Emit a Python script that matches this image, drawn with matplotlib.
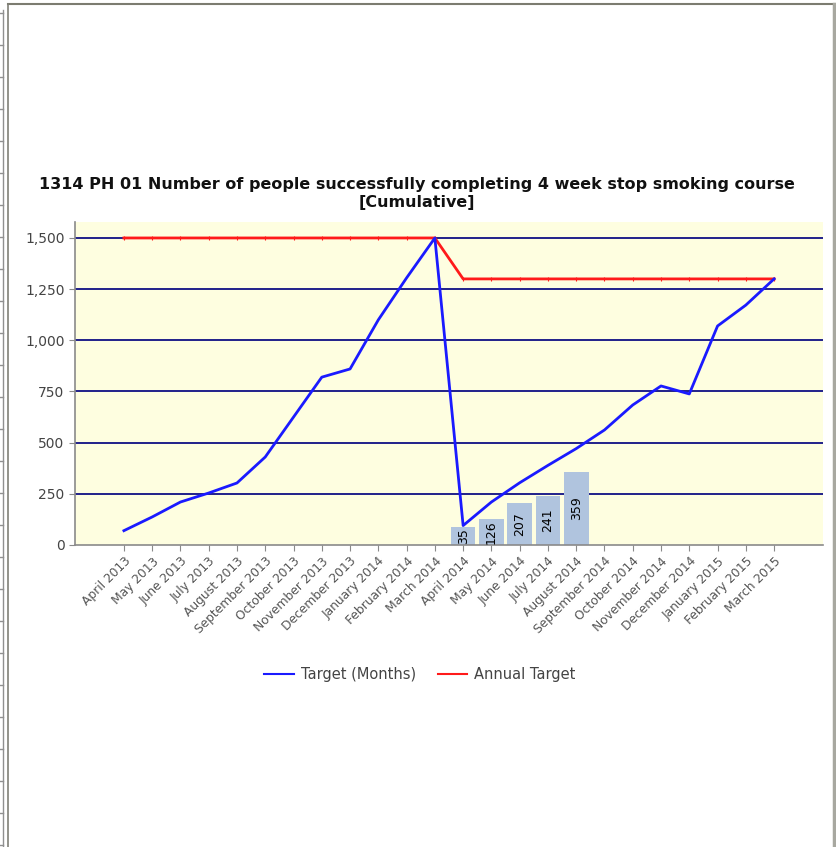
import matplotlib
matplotlib.use('Agg')
import matplotlib.pyplot as plt
from matplotlib.lines import Line2D
from matplotlib.ticker import FuncFormatter

# --- data ---
months = ['April 2013', 'May 2013', 'June 2013', 'July 2013', 'August 2013',
          'September 2013', 'October 2013', 'November 2013', 'December 2013',
          'January 2014', 'February 2014', 'March 2014', 'April 2014', 'May 2014',
          'June 2014', 'July 2014', 'August 2014', 'September 2014', 'October 2014',
          'November 2014', 'December 2014', 'January 2015', 'February 2015',
          'March 2015']
target_months = [70, 137, 210, 254, 303, 430, 625, 820, 860, 1100, 1305, 1500,
                 95, 210, 304, 389, 471, 562, 684, 777, 738, 1070, 1172, 1300]
annual_target = [1500, 1500, 1500, 1500, 1500, 1500, 1500, 1500, 1500, 1500, 1500, 1500,
                 1300, 1300, 1300, 1300, 1300, 1300, 1300, 1300, 1300, 1300, 1300, 1300]
actual_months = ['April 2014', 'May 2014', 'June 2014', 'July 2014', 'August 2014']
actual = [35, 126, 207, 241, 359]

TITLE = ("1314 PH 01 Number of people successfully completing 4 week stop smoking course\n"
         "[Cumulative]")

W, H = 837, 847
fig = plt.figure(figsize=(W / 100, H / 100), dpi=100)
fig.patch.set_facecolor('white')

# plot area in pixels: x 75..823, y 222..545
ax = fig.add_axes([75 / W, 1 - 545 / H, (823 - 75) / W, (545 - 222) / H])
ax.set_facecolor('#fefee0')

# lines first so the category axis keeps the month order
ax.plot(months, annual_target, color='#ff1a1a', lw=2, marker='|', ms=3, mew=0.8,
        zorder=4, label='Annual Target')
ax.plot(months, target_months, color='#1a1aff', lw=2, zorder=5, label='Target (Months)')

# bars get a minimum drawn height so the label fits (like the original tool)
bar_heights = [max(v, 89) for v in actual]
bars = ax.bar(actual_months, bar_heights, width=0.87, color='#b0c4de', zorder=2)
for b, v in zip(bars, actual):
    ax.text(b.get_x() + b.get_width() / 2, b.get_height() / 2, str(v),
            rotation=90, ha='center', va='center', fontsize=9, color='black', zorder=3)

ax.set_ylim(0, 1578)
ax.set_xlim(-1.73, 24.73)
ax.set_yticks(range(0, 1501, 250))
ax.yaxis.set_major_formatter(FuncFormatter(lambda v, p: f'{int(v):,}'))
for yv in range(250, 1501, 250):
    ax.axhline(yv, color='#20208a', lw=1.4, zorder=1)

for s in ['top', 'right']:
    ax.spines[s].set_visible(False)
for s in ['left', 'bottom']:
    ax.spines[s].set_color('#8a8a8a')
    ax.spines[s].set_linewidth(1.2)

ax.tick_params(axis='y', colors='#8a8a8a', labelcolor='#444444', labelsize=10,
               length=4, direction='out')
ax.tick_params(axis='x', colors='#8a8a8a', labelcolor='#555555', labelsize=8.8,
               length=4, direction='out', pad=3)
plt.setp(ax.get_xticklabels(), rotation=45, ha='right', rotation_mode='anchor')

fig.text(417 / W, 1 - 193 / H, TITLE, ha='center', va='center', fontsize=11.5,
         fontweight='bold', color='#111111', linespacing=1.25)

# legend below the chart
handles = [Line2D([], [], color='#1a1aff', lw=1.5), Line2D([], [], color='#ff1a1a', lw=1.5)]
fig.legend(handles, ['Target (Months)', 'Annual Target'], loc='center',
           bbox_to_anchor=(420 / W, 1 - 675 / H), ncol=2, frameon=False,
           fontsize=10.5, labelcolor='#444444', handlelength=2.0, handletextpad=0.5,
           columnspacing=1.5)

# window frame around the chart
def px_line(x0, y0, x1, y1, color, lw):
    fig.add_artist(Line2D([x0 / W, x1 / W], [1 - y0 / H, 1 - y1 / H],
                          color=color, lw=lw, transform=fig.transFigure))

px_line(8, 4.5, 836, 4.5, '#7c7c70', 1.5)
px_line(834, 4, 834, 847, '#a8a8a0', 2.5)
px_line(2.5, 10, 2.5, 847, '#909090', 1)
px_line(8, 4, 8, 847, '#808078', 1.2)
for yy in range(13, 847, 32):
    px_line(0, yy, 3, yy, '#909090', 1)

fig.savefig('out.png', dpi=100)
